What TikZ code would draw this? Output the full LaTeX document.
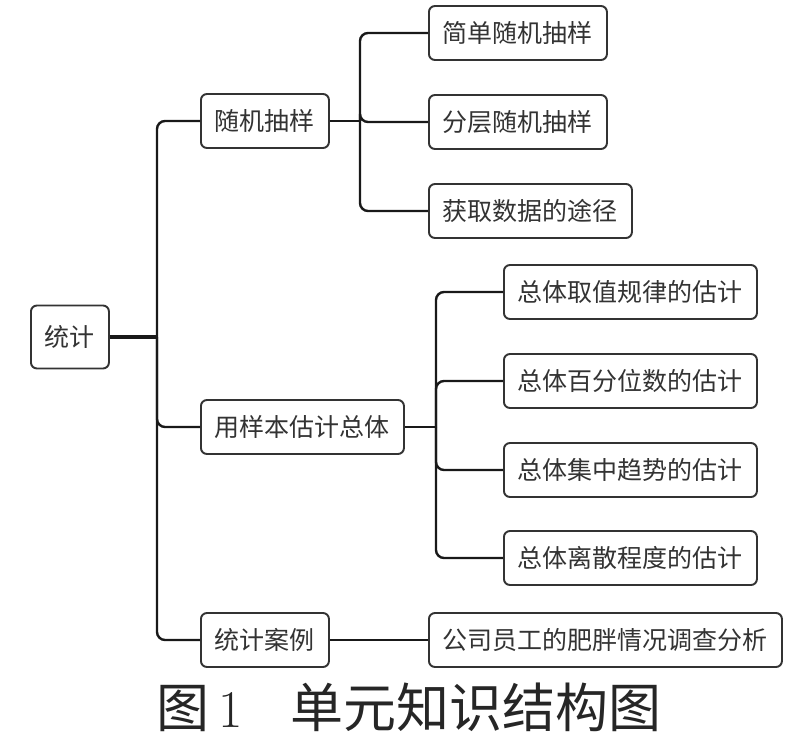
\documentclass[tikz,border=0pt]{standalone}
\usepackage{fontspec}
\newfontfamily\cjk{Noto Sans CJK SC}
\usetikzlibrary{positioning}

\begin{document}
\begin{tikzpicture}[x=1pt, y=-1pt,
  box/.style={draw=black!80, line width=1.9pt, rounded corners=6pt, fill=white,
    anchor=west, inner xsep=14pt, inner ysep=0pt, minimum height=54pt,
    text=black!80, font=\cjk\fontsize{25}{28}\selectfont},
  link/.style={line width=2.4pt, black!90}]
\useasboundingbox (0,0) rectangle (800,749);

% root and first level
\node[box, minimum height=63pt] (tongji) at (30,337) {统计};
\node[box] (suiji) at (200,121) {随机抽样};
\node[box] (guji) at (200,427) {用样本估计总体};
\node[box] (anli) at (200,640) {统计案例};

% second level
\node[box] (jiandan) at (428,33) {简单随机抽样};
\node[box] (fenceng) at (428,122) {分层随机抽样};
\node[box] (huoqu) at (428,211) {获取数据的途径};

\node[box] (quzhi) at (503,292) {总体取值规律的估计};
\node[box] (baifen) at (503,381) {总体百分位数的估计};
\node[box] (jizhong) at (503,470) {总体集中趋势的估计};
\node[box] (lisan) at (503,558) {总体离散程度的估计};

\node[box] (gongsi) at (428,640) {公司员工的肥胖情况调查分析};

% trunks
\coordinate (t1) at (157,0);
\coordinate (t2) at (360,0);
\coordinate (t3) at (436,0);

\draw[link, line width=3.5pt] (tongji.east) -- (tongji.east -| t1);
\foreach \c in {suiji,guji,anli}
  \draw[link, rounded corners=8pt] (tongji.east -| t1) |- (\c.west);

\draw[link] (suiji.east) -- (suiji.east -| t2);
\foreach \c in {jiandan,fenceng,huoqu}
  \draw[link, rounded corners=8pt] (suiji.east -| t2) |- (\c.west);

\draw[link] (guji.east) -- (guji.east -| t3);
\foreach \c in {quzhi,baifen,jizhong,lisan}
  \draw[link, rounded corners=8pt] (guji.east -| t3) |- (\c.west);

\draw[link] (anli) -- (gongsi);

% caption
\node[font=\fontsize{53}{58}\selectfont, text=black!85] (caption) at (409,707)
  {{\cjk 图}\,1\hspace{0.9em}{\cjk 单元知识结构图}};
\end{tikzpicture}
\end{document}
